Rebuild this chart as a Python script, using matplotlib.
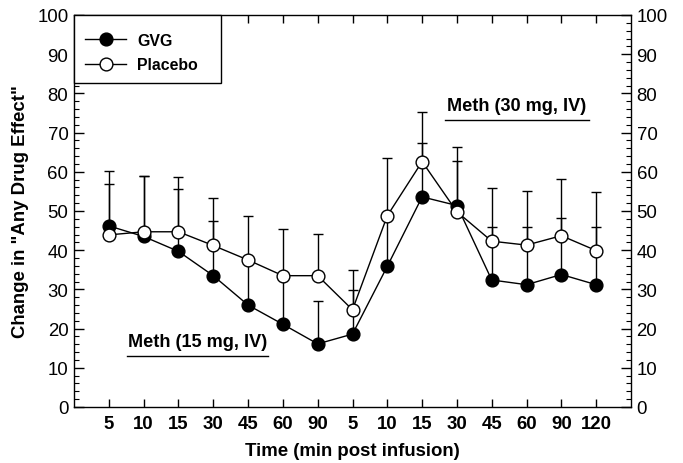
import matplotlib
matplotlib.use("Agg")
import matplotlib.pyplot as plt
from matplotlib.patches import Rectangle
import numpy as np

plt.rcParams['font.family'] = ['Liberation Sans', 'DejaVu Sans']

tick_labels = ["5", "10", "15", "30", "45", "60", "90", "5", "10", "15", "30", "45", "60", "90", "120"]
gvg = [46.2, 43.5, 39.7, 33.5, 26.0, 21.1, 16.1, 18.6, 35.9, 53.6, 51.4, 32.4, 31.2, 33.8, 31.2]
placebo = [43.9, 44.7, 44.7, 41.2, 37.5, 33.5, 33.5, 24.8, 48.8, 62.6, 49.8, 42.3, 41.3, 43.7, 39.9]
gvg_upper = [60.3, 59.0, 55.6, 47.4, 37.5, 33.5, 27.1, 29.9, 48.8, 67.3, 62.8, 45.8, 46.0, 48.3, 45.8]
placebo_upper = [56.9, 59.0, 58.6, 53.3, 48.6, 45.4, 44.1, 35.0, 63.4, 75.3, 66.2, 55.9, 55.0, 58.2, 54.9]

x = np.arange(len(tick_labels))
gvg = np.array(gvg); placebo = np.array(placebo)
gvg_err = np.array(gvg_upper) - gvg
pl_err = np.array(placebo_upper) - placebo

fig = plt.figure(figsize=(6.83, 4.64), dpi=100)
ax = fig.add_axes([74/683, 56/464, (631-74)/683, (408-16)/464])

ax.errorbar(x, gvg, yerr=[np.zeros_like(gvg), gvg_err], fmt='none', ecolor='black',
            elinewidth=1.0, capsize=3.8, capthick=1.0, zorder=1)
ax.errorbar(x, placebo, yerr=[np.zeros_like(placebo), pl_err], fmt='none', ecolor='black',
            elinewidth=1.0, capsize=3.8, capthick=1.0, zorder=1)
ax.plot(x, gvg, '-o', color='black', lw=1.0, ms=9.2, mfc='black', mec='black', zorder=3, label='GVG')
ax.plot(x, placebo, '-o', color='black', lw=1.0, ms=9.2, mfc='white', mec='black', mew=1.0,
        zorder=4, label='Placebo')

ax.set_xlim(-1, 15)
ax.set_ylim(0, 100)
ax.set_xticks(x)
ax.set_xticklabels(tick_labels, fontweight='bold', fontsize=13.4)
ax.set_yticks(np.arange(0, 101, 10))
ax.set_yticks(np.arange(0, 101, 2), minor=True)
ax.tick_params(axis='y', which='major', direction='in', length=7, width=1,
               left=True, right=True, labelleft=True, labelright=True, labelsize=13.4, pad=4)
ax.tick_params(axis='y', which='minor', direction='in', length=3.5, width=0.8, left=True, right=True)
ax.tick_params(axis='x', which='major', direction='in', length=6, width=1, top=True, bottom=True,
               pad=6)
for s in ax.spines.values():
    s.set_linewidth(1.0)

ax.set_xlabel('Time (min post infusion)', fontweight='bold', fontsize=13.4, labelpad=7)
ax.set_ylabel('Change in "Any Drug Effect"', fontweight='bold', fontsize=13.4, labelpad=6)

# annotations
ax.text(2.55, 14.6, 'Meth (15 mg, IV)', ha='center', va='bottom', fontweight='bold', fontsize=13.1)
ax.plot([0.52, 4.58], [13.1, 13.1], color='black', lw=1.0)
ax.text(11.72, 74.7, 'Meth (30 mg, IV)', ha='center', va='bottom', fontweight='bold', fontsize=13.1)
ax.plot([9.67, 13.78], [73.2, 73.2], color='black', lw=1.0)

# legend box
box = Rectangle((0, 1 - (84-16)/392), (221-74)/557, (84-16)/392, transform=ax.transAxes,
                facecolor='white', edgecolor='black', lw=1.0, zorder=9, clip_on=False)
ax.add_patch(box)
leg = ax.legend(loc='upper left', bbox_to_anchor=(11/557, 1 - 18/392), borderaxespad=0,
                borderpad=0, frameon=False, prop={'weight': 'bold', 'size': 11.4},
                handlelength=2.6, labelspacing=0.6, handletextpad=0.7)
leg.set_zorder(10)

fig.savefig('out.png', dpi=100)
